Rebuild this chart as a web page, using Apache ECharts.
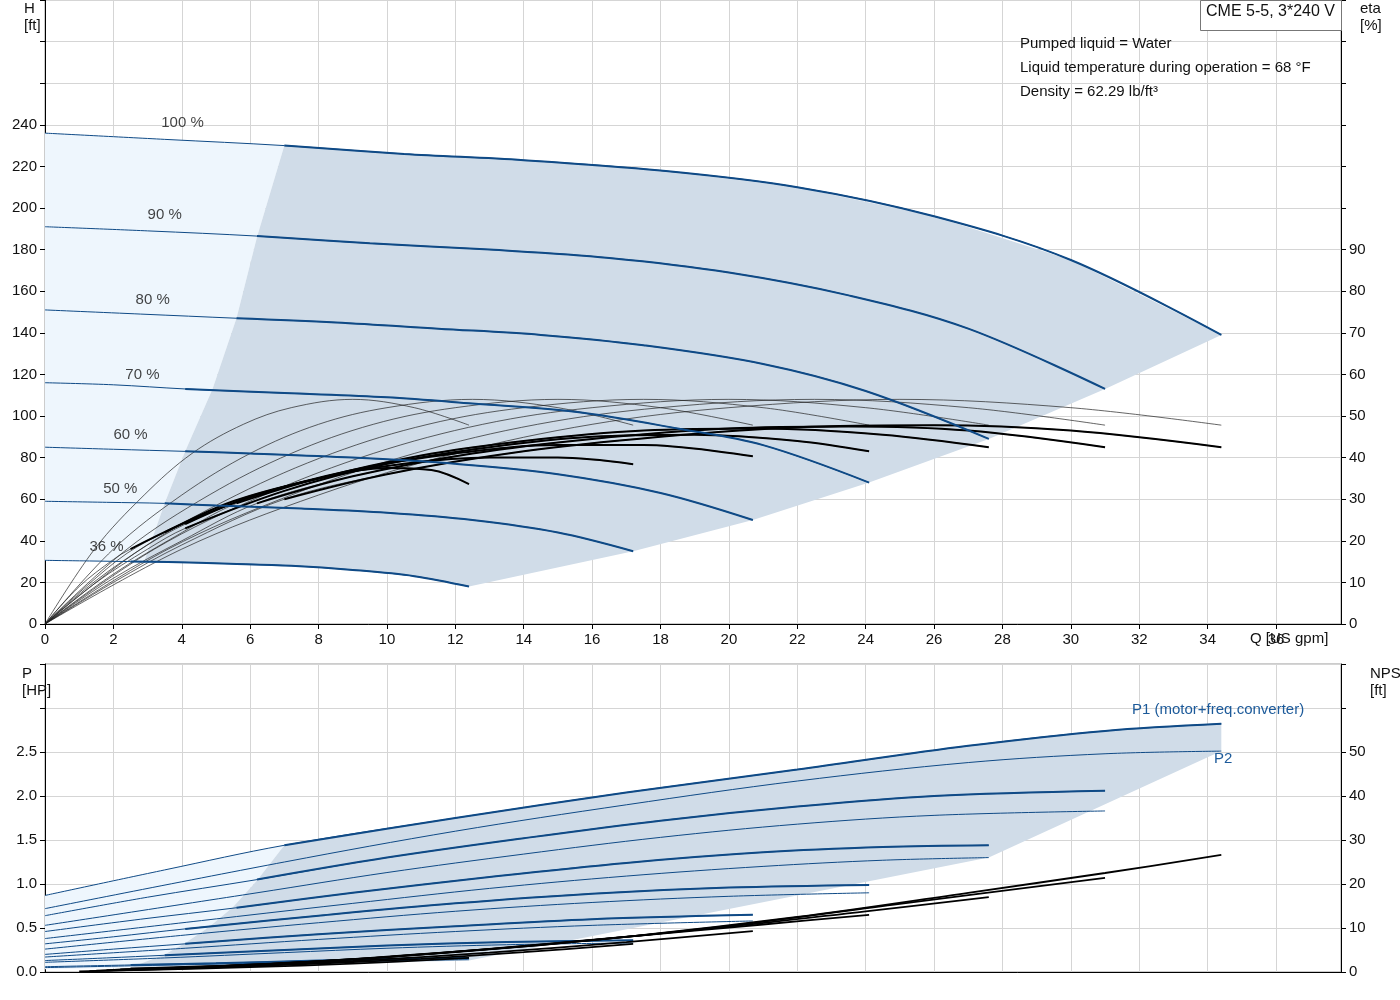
<!DOCTYPE html>
<html><head><meta charset="utf-8">
<script src="https://cdn.jsdelivr.net/npm/echarts@6/dist/echarts.min.js"></script>
<style>html,body{margin:0;padding:0;background:#fff}#c{width:1400px;height:1000px}</style>
</head><body><div id="c"></div>
<script>
// ---------- DATA ----------
const speeds = ['100 %','90 %','80 %','70 %','60 %','50 %','36 %'];
const thickStartQ = [7, 6.2, 5.6, 4.1, 4.1, 3.5, 2.5];
const H100=[[0,236],[3.5,233],[7,230],[10.5,226],[14,223],[18,218],[22,210],[26,196],[30,175],[34.4,139]];
const H90=[[0,191],[3,189],[6.2,186.5],[9.5,183],[13,180],[16.5,176],[20,169],[23.5,158],[27,142],[31,113]];
const H80=[[0,151],[2.8,149],[5.6,147],[8.5,145],[11.5,142],[14.5,139],[17.5,134],[21,125],[24,112],[27.6,89]];
const H70=[[0,116],[2,115],[4.1,113],[7,111],[10,109],[12.5,106],[15.5,102],[18.5,94],[21,86],[24.1,68]];
const H60=[[0,85],[2,84],[4.1,83],[6,82],[9,80],[12,77],[15,72],[18,63],[20.7,50]];
const H50=[[0,59],[1.8,58.5],[3.5,58],[5,57],[7.5,55.5],[10,53.5],[12.5,50],[15,44],[17.2,35]];
const H36=[[0,30.6],[1.3,30.3],[2.5,30],[3.6,29.8],[5.4,29],[7.2,28],[9,26],[10.8,23],[12.4,18]];
const E100=[[0,0],[2,10],[4,19],[7,30],[10,36],[14,41.5],[18,45],[22,47.3],[26,47.8],[30,46.5],[34.4,42.5]];
const E90=[[0,0],[2,11],[4,20],[6.2,29],[9,35.5],[12.5,41],[16,44.5],[20,47],[23.5,47.5],[27,46.5],[31,42.5]];
const E80=[[0,0],[2,12],[3.8,21],[5.6,29],[8,35],[11,40.5],[14,44],[17.5,46.5],[21,47],[24.5,45.5],[27.6,42.5]];
const E70=[[0,0],[1.5,10],[3,18],[4.1,23],[7,32],[10,38.5],[13,42.5],[16,45],[19,45.5],[22,44],[24.1,41.5]];
const E60=[[0,0],[1.5,10.5],[3,19],[4.1,24],[6,30.5],[9,37],[12,41],[15,43],[17.5,43],[20.7,40.3]];
const E50=[[0,0],[1.2,9],[2.4,17],[3.5,22],[5.5,29.5],[8,35],[10.5,38.5],[13,40],[15,40],[17.2,38.4]];
const E36=[[0,0],[1,9],[2,15.5],[2.5,18],[4,24],[6,30.5],[8,35],[10,37.5],[11.3,37],[12.4,33.6]];
const T100=[[0,0],[4,18],[8,31],[12,41],[16,48],[20,52],[25,54],[30,52],[34.4,47.8]];
const T90=[[0,0],[3.6,18],[7.2,31],[10.8,41],[14.4,48],[18,52],[22.5,54],[27,52],[31,47.8]];
const T80=[[0,0],[3.2,18],[6.4,31],[9.6,41],[12.8,48],[16,52],[20,54],[24,52],[27.6,47.8]];
const T70=[[0,0],[2.8,18],[5.6,31],[8.4,41],[11.2,48],[14,52],[17.5,54],[21,52],[24.1,47.8]];
const T60=[[0,0],[2.4,18],[4.8,31],[7.2,41],[9.6,48],[12,52],[15,54],[18,52],[20.7,47.8]];
const T50=[[0,0],[2,18],[4,31],[6,41],[8,48],[10,52],[12.5,54],[15,52],[17.2,47.8]];
const T36=[[0,0],[1.45,18],[2.9,31],[4.3,41],[5.8,48],[7.2,52],[9,54],[10.8,52],[12.4,47.8]];
const P1_100=[[0,0.87],[3.5,1.16],[7,1.44],[12,1.75],[17,2.04],[22,2.3],[27,2.57],[31,2.74],[34.4,2.82]];
const P2_100=[[0,0.72],[7,1.25],[12,1.6],[17,1.9],[22,2.17],[27,2.38],[31,2.48],[34.4,2.51]];
const P1_90=[[0,0.64],[3,0.85],[6.2,1.05],[10,1.3],[14,1.52],[18,1.72],[22,1.88],[26,2.0],[31,2.06]];
const P2_90=[[0,0.53],[6.2,0.9],[10,1.13],[14,1.34],[18,1.53],[22,1.68],[26,1.78],[31,1.83]];
const P1_80=[[0,0.46],[2.8,0.6],[5.6,0.73],[9,0.9],[13,1.08],[17,1.24],[21,1.36],[24.5,1.42],[27.6,1.44]];
const P2_80=[[0,0.38],[5.6,0.63],[9,0.78],[13,0.95],[17,1.09],[21,1.2],[24.5,1.27],[27.6,1.3]];
const P1_70=[[0,0.32],[2,0.4],[4.1,0.49],[8,0.64],[12,0.78],[16,0.89],[20,0.96],[24.1,0.99]];
const P2_70=[[0,0.26],[4.1,0.42],[8,0.56],[12,0.69],[16,0.79],[20,0.86],[24.1,0.9]];
const P1_60=[[0,0.2],[2,0.26],[4.1,0.32],[8,0.43],[12,0.52],[16,0.6],[20.7,0.65]];
const P2_60=[[0,0.17],[4.1,0.27],[8,0.37],[12,0.46],[16,0.53],[20.7,0.58]];
const P1_50=[[0,0.13],[1.8,0.16],[3.5,0.19],[7,0.25],[10,0.3],[13.5,0.34],[17.2,0.36]];
const P2_50=[[0,0.11],[3.5,0.16],[7,0.22],[10,0.27],[13.5,0.31],[17.2,0.33]];
const P1_36=[[0,0.06],[2.5,0.08],[5,0.1],[8,0.13],[10.5,0.15],[12.4,0.16]];
const P2_36=[[0,0.05],[2.5,0.07],[5,0.09],[8,0.11],[10.5,0.13],[12.4,0.14]];
const N100=[[2.5,0.8],[7,2],[12,4.5],[17,8],[22,12.5],[27,18],[31,22.5],[34.4,26.6]];
const N90=[[2.2,0.6],[6,1.6],[10,3.5],[15,6.5],[20,10.5],[25,15.5],[31,21.4]];
const N80=[[2,0.5],[6,1.6],[10,3.4],[15,6.6],[20,10.3],[24,13.8],[27.6,17]];
const N70=[[1.8,0.4],[5,1.3],[9,2.9],[13,5.2],[17,8],[21,10.8],[24.1,13]];
const N60=[[1.5,0.3],[5,1.1],[9,2.5],[13,4.4],[17,6.8],[20.7,9.3]];
const N50=[[1.3,0.2],[4,0.8],[8,1.9],[11,3],[14,4.5],[17.2,6.4]];
const N36=[[1,0.15],[3,0.5],[6,1.1],[9,1.9],[12.4,3.2]];
const speedLabelPos=[[3.4,241],[3.0,196.5],[2.65,156],[2.35,120],[2.0,91],[1.7,65],[1.3,37]];
// region boundaries
const hLeftBoundary=[[7,230],[6.2,186],[5.6,147],[4.9,113],[4.1,83],[3.5,58],[2.9,30]];
const hRightBoundary=[[34.4,139],[31,113],[27.6,89],[24.1,68],[20.7,50],[17.2,35],[12.4,18]];
const pLeftBoundary=[[7,1.44],[6.2,1.04],[5.5,0.74],[4.8,0.51],[4.1,0.33],[3.5,0.2],[2.5,0.05]];
const pRightBoundary=[[34.4,2.51],[27.6,1.3],[12.4,0.13],[6,0.07],[2.5,0.05]];
const xTicks={min:0,max:37.9,interval:2};

// ---------- BUILD ----------
const Hs=[H100,H90,H80,H70,H60,H50,H36];
const Es=[E100,E90,E80,E70,E60,E50,E36];
const Ts=[T100,T90,T80,T70,T60,T50,T36];
const P1s=[P1_100,P1_90,P1_80,P1_70,P1_60,P1_50,P1_36];
const P2s=[P2_100,P2_90,P2_80,P2_70,P2_60,P2_50,P2_36];
const Ns=[N100,N90,N80,N70,N60,N50,N36];
const BLUE='#0f4a86';
const F='Liberation Sans, Arial, sans-serif';
const from=(arr,q)=>arr.filter(p=>p[0]>=q-1e-9);
const upto=(arr,q)=>arr.filter(p=>p[0]<=q+1e-9);
function poly(name,pts,color,xi,yi){
  return {type:'custom',name,xAxisIndex:xi,yAxisIndex:yi,z:1,silent:true,data:[0],
    renderItem:(params,api)=>({type:'polygon',shape:{points:pts.map(p=>api.coord(p))},style:{fill:color}})};
}
function line(data,color,w,xi,yi,z){
  return {type:'line',data,xAxisIndex:xi,yAxisIndex:yi,smooth:0.35,symbol:'none',silent:true,z:z||3,
    lineStyle:{color,width:w}};
}
const series=[];
// top regions
series.push(poly('lightH',[...upto(H100,7),...hLeftBoundary,...upto(H36,2.5).reverse()],'#eef6fd',0,0));
series.push(poly('darkH',[...from(H100,7),...hRightBoundary.slice(1),...from(H36,2.5).reverse().slice(1),...hLeftBoundary.slice().reverse()],'#d0dce8',0,0));
// bottom regions
series.push(poly('lightP',[...upto(P1_100,7),...pLeftBoundary,[0,0.03]],'#eef6fd',1,2));
series.push(poly('darkP',[...from(P1_100,7),...pRightBoundary,...pLeftBoundary.slice().reverse()],'#d0dce8',1,2));
for(let i=0;i<7;i++){
  const q=thickStartQ[i];
  series.push(line(Hs[i],BLUE,1,0,0,4));
  series.push(line(from(Hs[i],q),BLUE,2,0,0,5));
  series.push(line(Ts[i],'#222',0.7,0,1,3));
  series.push(line(Es[i],'#222',0.7,0,1,3));
  series.push(line(from(Es[i],q),'#000',2,0,1,4));
  series.push(line(P1s[i],BLUE,1,1,2,4));
  series.push(line(from(P1s[i],q),BLUE,2,1,2,5));
  series.push(line(P2s[i],BLUE,1,1,2,4));
  series.push(line(Ns[i],'#000',1.8,1,3,6));
}
series.push({type:'scatter',xAxisIndex:0,yAxisIndex:0,symbolSize:0,silent:true,z:7,
  data:speedLabelPos.map((p,i)=>({value:p,label:{show:true,formatter:speeds[i],position:'right',distance:0,color:'#111',fontSize:15,fontFamily:F}}))});

const axLine={show:true,lineStyle:{color:'#000'}};
const lbl={color:'#111',fontSize:15,fontFamily:F};
const opt={
  animation:false,
  grid:[{left:45,top:0,width:1296,height:624,show:true,borderColor:'#999',borderWidth:1},
        {left:45,top:664,width:1296,height:308,show:true,borderColor:'#999',borderWidth:1}],
  xAxis:[
    {type:'value',gridIndex:0,...xTicks,axisLine:{...axLine,onZero:false},axisTick:{show:true,length:5},
     axisLabel:{...lbl,showMaxLabel:false},splitLine:{lineStyle:{color:'#d5d5d5'}}},
    {type:'value',gridIndex:1,...xTicks,axisLine:{...axLine,onZero:false},axisTick:{show:false},
     axisLabel:{show:false},splitLine:{lineStyle:{color:'#d5d5d5'}}}],
  yAxis:[
    {type:'value',gridIndex:0,min:0,max:300,interval:20,axisLine:axLine,axisTick:{show:true,length:5},
     axisLabel:{...lbl,formatter:v=>v<=240?String(v):''},splitLine:{lineStyle:{color:'#d5d5d5'}}},
    {type:'value',gridIndex:0,position:'right',min:0,max:150,interval:10,axisLine:axLine,axisTick:{show:true,length:5},
     axisLabel:{...lbl,formatter:v=>v<=90?String(v):''},splitLine:{show:false}},
    {type:'value',gridIndex:1,min:0,max:3.5,interval:0.5,axisLine:axLine,axisTick:{show:true,length:5},
     axisLabel:{...lbl,formatter:v=>v<=2.5?v.toFixed(1):''},splitLine:{lineStyle:{color:'#d5d5d5'}}},
    {type:'value',gridIndex:1,position:'right',min:0,max:70,interval:10,axisLine:axLine,axisTick:{show:true,length:5},
     axisLabel:{...lbl,formatter:v=>v<=50?String(v):''},splitLine:{show:false}}],
  series,
  graphic:[
    {type:'rect',left:1200,top:0,shape:{width:141,height:30},style:{fill:'#fff',stroke:'#777',lineWidth:1},z:10},
    {type:'text',left:1206,top:4,style:{text:'CME 5-5, 3*240 V',font:'16px '+F,fill:'#111'},z:11},
    {type:'text',left:1020,top:36,style:{text:'Pumped liquid = Water',font:'15px '+F,fill:'#111'},z:11},
    {type:'text',left:1020,top:60,style:{text:'Liquid temperature during operation = 68 °F',font:'15px '+F,fill:'#111'},z:11},
    {type:'text',left:1020,top:84,style:{text:'Density = 62.29 lb/ft³',font:'15px '+F,fill:'#111'},z:11},
    {type:'text',left:24,top:0,style:{text:'H\n[ft]',font:'15px '+F,fill:'#111',align:'center',lineHeight:17},z:11},
    {type:'text',left:1360,top:0,style:{text:'eta\n[%]',font:'15px '+F,fill:'#111',align:'center',lineHeight:17},z:11},
    {type:'text',left:1250,top:631,style:{text:'Q [US gpm]',font:'15px '+F,fill:'#111'},z:11},
    {type:'text',left:22,top:665,style:{text:'P\n[HP]',font:'15px '+F,fill:'#111',align:'center',lineHeight:17},z:11},
    {type:'text',left:1370,top:665,style:{text:'NPSH\n[ft]',font:'15px '+F,fill:'#111',align:'center',lineHeight:17},z:11},
    {type:'text',left:1132,top:702,style:{text:'P1 (motor+freq.converter)',font:'15px '+F,fill:'#1c5a9a'},z:11},
    {type:'text',left:1214,top:751,style:{text:'P2',font:'15px '+F,fill:'#1c5a9a'},z:11}
  ]
};
const ch=echarts.init(document.getElementById('c'));
ch.setOption(opt);
</script></body></html>
